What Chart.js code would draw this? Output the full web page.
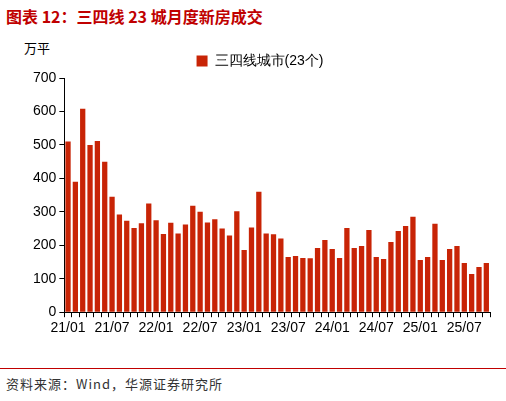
<!DOCTYPE html><html><head><meta charset="utf-8">
<script src="https://cdn.jsdelivr.net/npm/chart.js@4"></script>
<style>body{margin:0;width:506px;height:401px;background:#fff;font-family:"Noto Sans CJK SC";position:relative;overflow:hidden}
#t{position:absolute;left:6px;top:4px;font-size:16px;font-weight:bold;color:#c00000}
#l2{position:absolute;left:0;top:368px;width:506px;border-top:1px solid #c00000}
#s{position:absolute;left:6px;top:374px;font-size:13px;color:#333;letter-spacing:1px}
#u{position:absolute;left:24px;top:38px;font-size:13px;color:#000}
#c{position:absolute;left:0;top:44px}</style></head><body>
<div id="t">图表 12：三四线 23 城月度新房成交</div>
<div id="u">万平</div>
<div id="c"><canvas id="cv" width="506" height="300"></canvas></div>
<div id="l2"></div><div id="s">资料来源：Wind，华源证券研究所</div>
<script>
const seriesName="三四线城市(23个)";
const values=[510,390,608,500,512,450,345,292,273,252,266,325,275,234,267,235,262,318,300,268,278,250,229,302,186,253,360,235,233,220,
165,168,162,161,192,216,189,162,252,192,198,246,165,159,210,243,258,285,156,165,264,156,189,198,147,114,135,147];
const categories=[];
for(let i=0;i<values.length;i++){const y=21+Math.floor(i/12),m=i%12+1;categories.push(y+"/"+String(m).padStart(2,"0"));}
const yTicks=[0,100,200,300,400,500,600,700];
new Chart(document.getElementById("cv"),{type:"bar",
data:{labels:categories,datasets:[{label:seriesName,data:values,backgroundColor:"#c82406",barPercentage:0.72,categoryPercentage:1}]},
options:{responsive:false,animation:false,
layout:{padding:{left:30,right:16,top:0,bottom:4}},
plugins:{legend:{labels:{boxWidth:11,boxHeight:11,font:{size:14,family:"Liberation Sans"},color:"#000"}},tooltip:{enabled:false}},
scales:{x:{grid:{display:true,drawOnChartArea:false,offset:true,tickLength:5,color:"#000"},border:{color:"#000"},
ticks:{autoSkip:false,maxRotation:0,color:"#000",font:{size:14,family:"Liberation Sans"},
callback:(v,i)=>i%6===0?categories[i]:""}},
y:{min:0,max:700,afterBuildTicks:a=>{a.ticks=yTicks.map(v=>({value:v}))},grid:{display:true,drawOnChartArea:false,tickLength:5,color:"#000"},border:{color:"#000"},
ticks:{color:"#000",font:{size:14,family:"Liberation Sans"}}}}}});
</script></body></html>
